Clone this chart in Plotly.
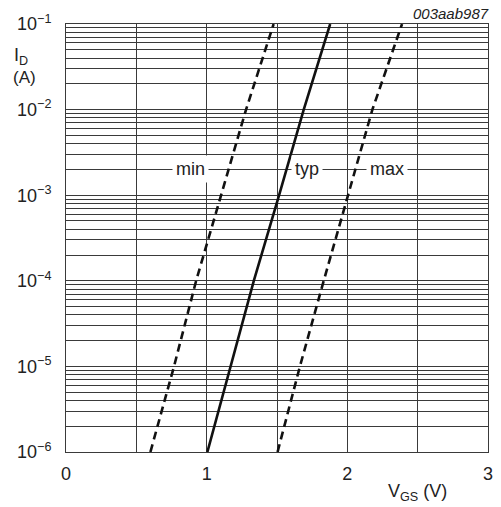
import math
import plotly.graph_objects as go

# ---- data ----
id_levels = [1e-6, 1e-5, 1e-4, 1e-3, 1e-2, 1e-1]
vgs_min = [0.60, 0.768, 0.925, 1.10, 1.28, 1.476]
vgs_typ = [1.005, 1.169, 1.335, 1.515, 1.69, 1.878]
vgs_max = [1.504, 1.663, 1.832, 2.003, 2.178, 2.389]

curve_names = ["min", "typ", "max"]
label_x = [0.886, 1.715, 2.284]
label_y = 2e-3

x_tickvals = [0, 1, 2, 3]
x_ticktext = ["0", "1", "2", "3"]
x_minor = [0.5, 1.5, 2.5]

y_tickvals = [1e-6, 1e-5, 1e-4, 1e-3, 1e-2, 1e-1]
y_ticktext = ["10<sup>\u22126</sup>", "10<sup>\u22125</sup>", "10<sup>\u22124</sup>",
              "10<sup>\u22123</sup>", "10<sup>\u22122</sup>", "10<sup>\u22121</sup>"]
y_minor = [m * d for d in [1e-6, 1e-5, 1e-4, 1e-3, 1e-2] for m in range(2, 10)]

FONT = "Liberation Sans, Arial, Helvetica, sans-serif"
grid_col = "#3a3a3a"
txt_col = "#222222"

fig = go.Figure()
for name, xs in zip(curve_names, [vgs_min, vgs_typ, vgs_max]):
    fig.add_trace(go.Scatter(
        x=xs, y=id_levels, mode="lines", name=name,
        line=dict(color="#111111", width=2.6,
                  dash="solid" if name == "typ" else "8px,5px"),
        showlegend=False, hoverinfo="skip",
    ))

for name, lx in zip(curve_names, label_x):
    fig.add_annotation(x=lx, y=math.log10(label_y), xref="x", yref="y",
                       text=name, showarrow=False,
                       font=dict(family=FONT, size=18, color=txt_col),
                       bgcolor="white", borderpad=3)

W, H = 501, 507
ml, mr, mt, mb = 66, 8, 24, 55
pw, ph = W - ml - mr, H - mt - mb

def paper(xp, yp):
    return (xp - ml) / pw, (H - mb - yp) / ph

ax, ay = paper(11, 56)
fig.add_annotation(x=ax, y=ay, xref="paper", yref="paper", xanchor="left", yanchor="middle",
                   text="I<sub>D</sub>", showarrow=False,
                   font=dict(family=FONT, size=18, color=txt_col))
ax, ay = paper(10, 78)
fig.add_annotation(x=ax, y=ay, xref="paper", yref="paper", xanchor="left", yanchor="middle",
                   text="(A)", showarrow=False,
                   font=dict(family=FONT, size=17, color=txt_col))
ax, ay = paper(422, 492)
fig.add_annotation(x=ax, y=ay, xref="paper", yref="paper", xanchor="center", yanchor="middle",
                   text="V<sub>GS</sub> (V)", showarrow=False,
                   font=dict(family=FONT, size=18, color=txt_col))
ax, ay = paper(496, 13)
fig.add_annotation(x=ax, y=ay, xref="paper", yref="paper", xanchor="right", yanchor="middle",
                   text="<i>003aab987</i>", showarrow=False,
                   font=dict(family=FONT, size=15, color=txt_col))

fig.update_xaxes(range=[0, 3], tickvals=x_tickvals, ticktext=x_ticktext,
                 showgrid=True, gridcolor=grid_col, gridwidth=1,
                 minor=dict(tickvals=x_minor, showgrid=True, gridcolor=grid_col, gridwidth=1, ticks=""),
                 showline=True, linecolor=grid_col, linewidth=1, mirror=True,
                 zeroline=False, ticks="", ticklabelstandoff=5,
                 tickfont=dict(family=FONT, size=18, color=txt_col))
fig.update_yaxes(type="log", range=[-6, -1], tickvals=y_tickvals, ticktext=y_ticktext,
                 showgrid=True, gridcolor=grid_col, gridwidth=1,
                 minor=dict(tickvals=y_minor, showgrid=True, gridcolor=grid_col, gridwidth=1, ticks=""),
                 showline=True, linecolor=grid_col, linewidth=1, mirror=True,
                 zeroline=False, ticks="", ticklabelstandoff=10,
                 tickfont=dict(family=FONT, size=18, color=txt_col))

fig.update_layout(width=W, height=H, margin=dict(l=ml, r=mr, t=mt, b=mb),
                  paper_bgcolor="white", plot_bgcolor="white")

fig.write_html("out.html", config={"displayModeBar": False},
               post_script="document.body.style.margin='0';document.body.style.padding='0';")
